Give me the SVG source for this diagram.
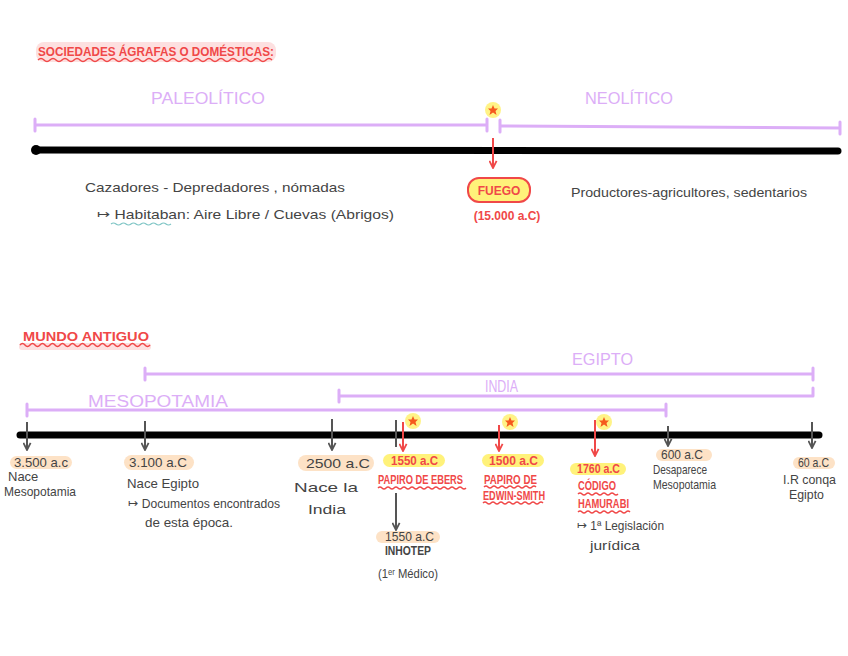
<svg xmlns="http://www.w3.org/2000/svg" width="848" height="656" viewBox="0 0 848 656">
<defs>
<style>
.t{font-family:"Liberation Sans",Arial,sans-serif;fill:#444;font-size:13px}
.red{font-family:"Liberation Sans",Arial,sans-serif;fill:#f04848;font-size:12px;font-weight:bold}
.lil{font-family:"Liberation Sans",Arial,sans-serif;fill:#dcaef7;font-size:16px}
.bar{stroke:#dcaef7;stroke-width:3;fill:none;stroke-linecap:round}
.main{stroke:#000;stroke-width:7;stroke-linecap:round}
.ga{stroke:#555;stroke-width:2;fill:none}
.ra{stroke:#f04848;stroke-width:2;fill:none}
.peach{fill:#fde2c6}
.yel{fill:#fff27a}
.wav{stroke:#f04848;stroke-width:1.5;fill:none}
</style>
<marker id="gh" viewBox="0 0 10 10" refX="9" refY="5" markerWidth="9" markerHeight="9" orient="auto" markerUnits="userSpaceOnUse">
<path d="M1,1 L9,5 L1,9" fill="none" stroke="#555" stroke-width="2"/>
</marker>
<marker id="rh" viewBox="0 0 10 10" refX="9" refY="5" markerWidth="9" markerHeight="9" orient="auto" markerUnits="userSpaceOnUse">
<path d="M1,1 L9,5 L1,9" fill="none" stroke="#f04848" stroke-width="2"/>
</marker>
<g id="star">
<circle r="8" fill="#fff27a" opacity="0.9"/>
<path d="M0,-5 L1.5,-1.5 L5,-1.5 L2.5,1 L3.5,5 L0,2.5 L-3.5,5 L-2.5,1 L-5,-1.5 L-1.5,-1.5Z" fill="#f55a1e"/>
</g>
</defs>
<rect width="848" height="656" fill="#fff"/>

<!-- Section 1 -->
<g id="title1">
<rect x="36" y="42" width="240" height="20" rx="8" fill="#fde0e0"/>
<text x="38" y="56" class="red" font-size="13" textLength="236" lengthAdjust="spacingAndGlyphs">SOCIEDADES ÁGRAFAS  O DOMÉSTICAS:</text>
<path class="wav" d="M38,60 q3,-3 6,0 t6,0 t6,0 t6,0 t6,0 t6,0 t6,0 t6,0 t6,0 t6,0 t6,0 t6,0 t6,0 t6,0 t6,0 t6,0 t6,0 t6,0 t6,0 t6,0 t6,0 t6,0 t6,0 t6,0 t6,0 t6,0 t6,0 t6,0 t6,0 t6,0 t6,0 t6,0 t6,0 t6,0 t6,0 t6,0 t6,0 t6,0 t6,0"/>
</g>
<g id="paleolitico">
<text x="151" y="104" class="lil" textLength="114" lengthAdjust="spacingAndGlyphs">PALEOLÍTICO</text>
<path class="bar" d="M35,125 L487,125 M35,119 L35,131 M487,119 L487,131"/>
</g>
<g id="neolitico">
<text x="585" y="104" class="lil" textLength="88" lengthAdjust="spacingAndGlyphs">NEOLÍTICO</text>
<path class="bar" d="M500,126 L840,128 M500,120 L500,132 M840,122 L840,134"/>
</g>
<g id="timeline1">
<line class="main" x1="36" y1="150" x2="838" y2="151"/>
<circle cx="36" cy="150" r="5" fill="#000"/>
</g>
<g id="fuego">
<use href="#star" x="493" y="110"/>
<rect x="468" y="178" width="62" height="24" rx="11" fill="#fff27a" stroke="#f04848" stroke-width="2"/>
<text x="499" y="195" class="red" font-size="13" text-anchor="middle">FUEGO</text>
<text x="507" y="220" class="red" font-size="9" text-anchor="middle">(15.000 a.C)</text>
</g>
<g id="cazadores">
<text x="85" y="192" class="t" font-size="14" textLength="260" lengthAdjust="spacingAndGlyphs">Cazadores - Depredadores , nómadas</text>
<text x="97" y="219" class="t" font-size="12" textLength="297" lengthAdjust="spacingAndGlyphs">↦ Habitaban: Aire Libre / Cuevas (Abrigos)</text>
<path d="M111,224 q2.5,-2 5,0 t5,0 t5,0 t5,0 t5,0 t5,0 t5,0 t5,0 t5,0 t5,0 t5,0 t5,0" stroke="#7cc4c4" stroke-width="1.2" fill="none"/>
</g>
<g id="productores">
<text x="571" y="197" class="t" font-size="12" textLength="236" lengthAdjust="spacingAndGlyphs">Productores-agricultores, sedentarios</text>
</g>

<!-- Section 2 -->
<g id="title2">
<rect x="19" y="343" width="132" height="7" rx="3" fill="#fde0e0"/>
<text x="23" y="341" class="red" font-size="13" textLength="126" lengthAdjust="spacingAndGlyphs">MUNDO ANTIGUO</text>
<path class="wav" d="M20,345 q2.5,-3 5,0 t5,0 t5,0 t5,0 t5,0 t5,0 t5,0 t5,0 t5,0 t5,0 t5,0 t5,0 t5,0 t5,0 t5,0 t5,0 t5,0 t5,0 t5,0 t5,0 t5,0 t5,0 t5,0 t5,0 t5,0 t5,0"/>
</g>
<g id="egipto">
<text x="572" y="365" class="lil" font-size="17" textLength="61" lengthAdjust="spacingAndGlyphs">EGIPTO</text>
<path class="bar" d="M145,374 L813,374 M145,368 L145,380 M813,368 L813,380"/>
</g>
<g id="india">
<text x="485" y="392" class="lil" font-size="11" textLength="33" lengthAdjust="spacingAndGlyphs">INDIA</text>
<path class="bar" d="M339,396 L813,396 M339,390 L339,402 M813,388 L813,396"/>
</g>
<g id="mesopotamia">
<text x="88" y="407" class="lil" font-size="18" textLength="140" lengthAdjust="spacingAndGlyphs">MESOPOTAMIA</text>
<path class="bar" d="M27,410 L666,410 M27,404 L27,416 M666,404 L666,416"/>
</g>
<g id="timeline2">
<line class="main" x1="20" y1="435" x2="819" y2="435"/>
</g>

<g id="connectors">
<line class="ra" x1="493" y1="138" x2="493" y2="168" marker-end="url(#rh)"/>
<line class="ga" x1="27" y1="422" x2="27" y2="450" marker-end="url(#gh)"/>
<line class="ga" x1="145" y1="421" x2="145" y2="450" marker-end="url(#gh)"/>
<line class="ga" x1="332" y1="419" x2="332" y2="450" marker-end="url(#gh)"/>
<line class="ga" x1="396" y1="420" x2="396" y2="447"/>
<line class="ga" x1="396" y1="493" x2="396" y2="530" marker-end="url(#gh)"/>
<line class="ga" x1="668" y1="426" x2="668" y2="446" marker-end="url(#gh)"/>
<line class="ga" x1="812" y1="422" x2="812" y2="448" marker-end="url(#gh)"/>
<line class="ra" x1="403" y1="422" x2="403" y2="451" marker-end="url(#rh)"/>
<line class="ra" x1="499" y1="425" x2="499" y2="451" marker-end="url(#rh)"/>
<line class="ra" x1="595" y1="420" x2="595" y2="456" marker-end="url(#rh)"/>
</g>

<g id="stars2">
<use href="#star" x="413" y="421"/>
<use href="#star" x="510" y="422"/>
<use href="#star" x="604" y="422"/>
</g>

<g id="n3500">
<rect x="10" y="456" width="62" height="13" rx="6.5" class="peach"/>
<text x="14" y="467" class="t" font-size="11" textLength="54" lengthAdjust="spacingAndGlyphs">3.500 a.c</text>
<text x="8" y="481" class="t" font-size="10">Nace</text>
<text x="4" y="496" class="t" font-size="10" textLength="72" lengthAdjust="spacingAndGlyphs">Mesopotamia</text>
</g>
<g id="n3100">
<rect x="124" y="455" width="70" height="15" rx="7.5" class="peach"/>
<text x="129" y="467" class="t" font-size="12" textLength="58" lengthAdjust="spacingAndGlyphs">3.100 a.C</text>
<text x="127" y="488" class="t" font-size="12" textLength="72" lengthAdjust="spacingAndGlyphs">Nace Egipto</text>
<text x="128" y="508" class="t" font-size="11" textLength="152" lengthAdjust="spacingAndGlyphs">↦ Documentos encontrados</text>
<text x="145" y="527" class="t" font-size="12" textLength="88" lengthAdjust="spacingAndGlyphs">de esta época.</text>
</g>
<g id="n2500">
<rect x="298" y="455" width="76" height="16" rx="8" class="peach"/>
<text x="306" y="468" class="t" font-size="16" textLength="64" lengthAdjust="spacingAndGlyphs">2500 a.C</text>
<text x="294" y="492" class="t" font-size="16" textLength="64" lengthAdjust="spacingAndGlyphs">Nace la</text>
<text x="308" y="514" class="t" font-size="16" textLength="38" lengthAdjust="spacingAndGlyphs">India</text>
</g>
<g id="ebers">
<rect x="383" y="454" width="62" height="13" rx="6.5" class="yel"/>
<text x="391" y="465" class="red" font-size="11" textLength="47" lengthAdjust="spacingAndGlyphs">1550 a.C</text>
<text x="378" y="484" class="red" font-size="11" textLength="85" lengthAdjust="spacingAndGlyphs">PAPIRO DE EBERS</text>
<path class="wav" d="M378,488 q2,-2 4,0 t4,0 t4,0 t4,0 t4,0 t4,0 t4,0 t4,0 t4,0 t4,0 t4,0 t4,0 t4,0 t4,0 t4,0 t4,0 t4,0 t4,0 t4,0 t4,0 t4,0 t4,0"/>
</g>
<g id="inhotep">
<rect x="376" y="531" width="64" height="12" rx="6" class="peach"/>
<text x="385" y="541" class="t" font-size="11" textLength="49" lengthAdjust="spacingAndGlyphs">1550 a.C</text>
<text x="385" y="555" class="t" font-size="11" font-weight="bold" textLength="46" lengthAdjust="spacingAndGlyphs">INHOTEP</text>
<text x="378" y="578" class="t" font-size="10" textLength="60" lengthAdjust="spacingAndGlyphs">(1ᵉʳ Médico)</text>
</g>
<g id="edwin">
<rect x="482" y="454" width="62" height="13" rx="6.5" class="yel"/>
<text x="489" y="465" class="red" font-size="11" textLength="49" lengthAdjust="spacingAndGlyphs">1500 a.C</text>
<text x="484" y="484" class="red" font-size="10" textLength="53" lengthAdjust="spacingAndGlyphs">PAPIRO DE</text>
<text x="483" y="500" class="red" font-size="10" textLength="62" lengthAdjust="spacingAndGlyphs">EDWIN-SMITH</text>
<path class="wav" d="M484,487 q2,-2 4,0 t4,0 t4,0 t4,0 t4,0 t4,0 t4,0 t4,0 t4,0 t4,0 t4,0 t4,0 t4,0 M483,503 q2,-2 4,0 t4,0 t4,0 t4,0 t4,0 t4,0 t4,0 t4,0 t4,0 t4,0 t4,0 t4,0 t4,0 t4,0 t4,0"/>
</g>
<g id="hamurabi">
<rect x="570" y="463" width="56" height="12" rx="6" class="yel"/>
<text x="577" y="473" class="red" font-size="9" textLength="43" lengthAdjust="spacingAndGlyphs">1760 a.C</text>
<text x="578" y="490" class="red" font-size="11" textLength="38" lengthAdjust="spacingAndGlyphs">CÓDIGO</text>
<text x="578" y="508" class="red" font-size="11" textLength="51" lengthAdjust="spacingAndGlyphs">HAMURABI</text>
<path class="wav" d="M578,494 q2,-2 4,0 t4,0 t4,0 t4,0 t4,0 t4,0 t4,0 t4,0 t4,0 t4,0 M578,512 q2,-2 4,0 t4,0 t4,0 t4,0 t4,0 t4,0 t4,0 t4,0 t4,0 t4,0 t4,0 t4,0 t4,0"/>
<text x="577" y="530" class="t" font-size="11" textLength="87" lengthAdjust="spacingAndGlyphs">↦ 1ª Legislación</text>
<text x="590" y="550" class="t" font-size="12" textLength="50" lengthAdjust="spacingAndGlyphs">jurídica</text>
</g>
<g id="n600">
<rect x="656" y="449" width="56" height="12" rx="6" class="peach"/>
<text x="661" y="459" class="t" font-size="10" textLength="42" lengthAdjust="spacingAndGlyphs">600 a.C</text>
<text x="653" y="474" class="t" font-size="10" textLength="54" lengthAdjust="spacingAndGlyphs">Desaparece</text>
<text x="653" y="489" class="t" font-size="10" textLength="63" lengthAdjust="spacingAndGlyphs">Mesopotamia</text>
</g>
<g id="n60">
<rect x="793" y="457" width="42" height="12" rx="6" class="peach"/>
<text x="798" y="467" class="t" font-size="10" textLength="31" lengthAdjust="spacingAndGlyphs">60 a.C</text>
<text x="783" y="484" class="t" font-size="10" textLength="53" lengthAdjust="spacingAndGlyphs">I.R conqa</text>
<text x="789" y="499" class="t" font-size="10" textLength="35" lengthAdjust="spacingAndGlyphs">Egipto</text>
</g>
</svg>
